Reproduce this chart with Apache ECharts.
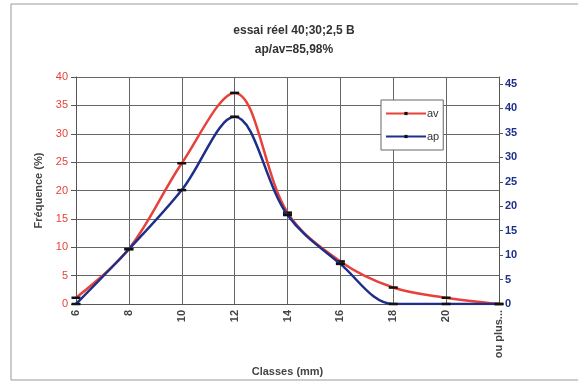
<!DOCTYPE html>
<html>
<head>
<meta charset="utf-8">
<script src="https://cdn.jsdelivr.net/npm/echarts@6/dist/echarts.min.js"></script>
<style>
  html, body { margin: 0; padding: 0; background: #fff; }
  #chart { width: 578px; height: 383px; }
</style>
</head>
<body>
<div id="chart"></div>
<script>
// classes (mm)
const classes = ['6', '8', '10', '12', '14', '16', '18', '20', 'ou plus...'];
// fréquence (%) avant - axe gauche
const avData = [1.1, 9.7, 24.8, 37.2, 16.1, 7.5, 2.9, 1.1, 0];
// fréquence (%) après - axe droit
const apData = [0, 11.2, 23.3, 38.3, 18.2, 8.2, 0, 0, 0];

const chart = echarts.init(document.getElementById('chart'));

const font = '"Liberation Sans", Arial, sans-serif';
const red = '#e8413a';
const blue = '#1d2f8a';

const option = {
    animation: false,
    textStyle: { fontFamily: font },
    graphic: [{
        type: 'rect',
        shape: { x: 11, y: 4, width: 570, height: 376 },
        style: { fill: 'none', stroke: '#999', lineWidth: 1 },
        silent: true
    }],
    title: {
        text: 'essai réel 40;30;2,5 B\nap/av=85,98%',
        left: 289,
        textAlign: 'center',
        top: 16,
        textStyle: { fontFamily: font, fontSize: 12, fontWeight: 'bold', color: '#333', lineHeight: 19 }
    },
    legend: {
        orient: 'vertical',
        left: 381,
        top: 100,
        padding: [8, 4, 8, 4],
        itemGap: 12,
        itemWidth: 40,
        itemHeight: 4,
        borderColor: '#666',
        borderWidth: 1,
        backgroundColor: '#fff',
        textStyle: { fontFamily: font, fontSize: 11, color: '#333', padding: [0, 0, 0, -4] },
        data: ['av', 'ap']
    },
    grid: { left: 76, right: 79, top: 77, bottom: 79 },
    xAxis: {
        type: 'category',
        data: classes,
        boundaryGap: false,
        name: 'Classes (mm)',
        nameLocation: 'middle',
        nameGap: 59,
        nameTextStyle: { fontFamily: font, fontSize: 11, fontWeight: 'bold', color: '#444' },
        axisLine: { lineStyle: { color: '#555', width: 1 } },
        axisTick: { show: false },
        axisLabel: { rotate: 90, margin: 6, fontSize: 11, fontWeight: 'bold', color: '#444', fontFamily: font },
        splitLine: { show: true, lineStyle: { color: '#666', width: 1 } }
    },
    yAxis: [{
        type: 'value',
        min: 0,
        max: 40,
        interval: 5,
        name: 'Fréquence (%)',
        nameLocation: 'middle',
        nameGap: 32,
        nameRotate: 90,
        nameTextStyle: { fontFamily: font, fontSize: 11, fontWeight: 'bold', color: '#444' },
        axisLine: { show: true, lineStyle: { color: '#555' } },
        axisTick: { show: true, length: 5, lineStyle: { color: '#555' } },
        axisLabel: { color: red, fontSize: 11, margin: 8, fontFamily: font },
        splitLine: { show: true, lineStyle: { color: '#666', width: 1 } }
    }, {
        type: 'value',
        min: 0,
        max: 46.43,
        interval: 5,
        position: 'right',
        axisLine: { show: true, lineStyle: { color: '#555' } },
        axisTick: { show: true, length: 4, lineStyle: { color: '#555' } },
        axisLabel: { color: blue, fontSize: 11, fontWeight: 'bold', margin: 6, showMaxLabel: false, fontFamily: font },
        splitLine: { show: false }
    }],
    series: [{
        name: 'av',
        type: 'line',
        yAxisIndex: 0,
        data: avData,
        smooth: 0.35,
        symbol: 'rect',
        symbolSize: [9, 2.5],
        itemStyle: { color: '#111' },
        lineStyle: { color: red, width: 2.5 },
        z: 2
    }, {
        name: 'ap',
        type: 'line',
        yAxisIndex: 1,
        data: apData,
        smooth: 0.35,
        symbol: 'rect',
        symbolSize: [9, 2.5],
        itemStyle: { color: '#111' },
        lineStyle: { color: blue, width: 2.5 },
        z: 3
    }]
};

chart.setOption(option);
</script>
</body>
</html>
